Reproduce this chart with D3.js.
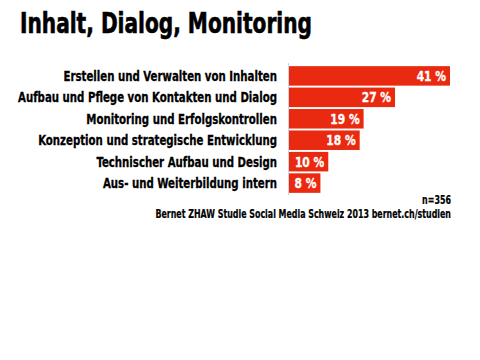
<!DOCTYPE html>
<html><head><meta charset="utf-8">
<script src="https://cdn.jsdelivr.net/npm/d3@7"></script>
<style>
body{margin:0;background:#fff;}
text{font-family:"DejaVu Sans Condensed","Liberation Sans Narrow",sans-serif;font-weight:bold;}
</style></head>
<body>
<svg id="c" width="480" height="360"></svg>
<script>
const categories = [
  "Erstellen und Verwalten von Inhalten",
  "Aufbau und Pflege von Kontakten und Dialog",
  "Monitoring und Erfolgskontrollen",
  "Konzeption und strategische Entwicklung",
  "Technischer Aufbau und Design",
  "Aus- und Weiterbildung intern"
];
const values = [41, 27, 19, 18, 10, 8];
const valueLabels = ["41 %", "27 %", "19 %", "18 %", "10 %", "8 %"];
const title = "Inhalt, Dialog, Monitoring";
const note = "n=356";
const source = "Bernet ZHAW Studie Social Media Schweiz 2013 bernet.ch/studien";

const svg = d3.select("#c");
const x0 = 289;
const x = d3.scaleLinear().domain([0, 41]).range([x0, 450]);
const y = d3.scaleBand().domain(categories).range([65.5, 193.5]).paddingInner(0.09).paddingOuter(0.03);
const SX = 0.81;

svg.append("text").attr("x", 20).attr("y", 33).attr("font-size", 28)
  .attr("textLength", 292).attr("lengthAdjust", "spacingAndGlyphs")
  .attr("stroke", "#000").attr("stroke-width", 0.6)
  .attr("fill", "#000").text(title);

svg.append("line").attr("x1", x0 - 0.5).attr("x2", x0 - 0.5)
  .attr("y1", 63).attr("y2", 195).attr("stroke", "#c8d4e0").attr("stroke-width", 1);

svg.selectAll("rect.bar").data(values).join("rect").attr("class", "bar")
  .attr("x", x0).attr("y", (d, i) => y(categories[i]))
  .attr("width", d => x(d) - x0).attr("height", y.bandwidth())
  .attr("fill", "#ea2a10");

svg.selectAll("text.cat").data(categories).join("text").attr("class", "cat")
  .attr("transform", d => `translate(277,${y(d) + y.bandwidth() / 2 + 5}) scale(${SX},1)`)
  .attr("text-anchor", "end").attr("font-size", 14).attr("fill", "#000")
  .attr("stroke", "#000").attr("stroke-width", 0.3)
  .text(d => d);

svg.selectAll("text.val").data(values).join("text").attr("class", "val")
  .attr("transform", (d, i) => `translate(${x(d) - 4},${y(categories[i]) + y.bandwidth() / 2 + 5}) scale(0.85,1)`)
  .attr("text-anchor", "end").attr("font-size", 14).attr("fill", "#fff")
  .attr("stroke", "#fff").attr("stroke-width", 0.3)
  .text((d, i) => valueLabels[i]);

svg.append("text").attr("transform", "translate(451,204) scale(0.77,1)").attr("text-anchor", "end")
  .attr("font-size", 11.5).attr("fill", "#000").attr("stroke", "#000").attr("stroke-width", 0.2).text(note);
svg.append("text").attr("transform", "translate(451,218) scale(0.765,1)").attr("text-anchor", "end")
  .attr("font-size", 11.5).attr("fill", "#000").attr("stroke", "#000").attr("stroke-width", 0.2).text(source);
</script>
</body></html>
